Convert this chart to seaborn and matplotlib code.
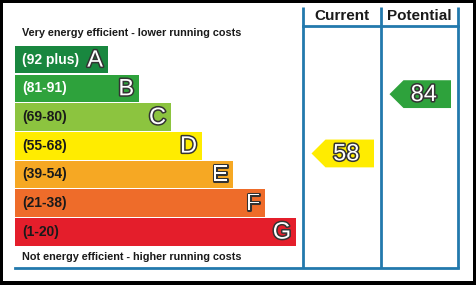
import matplotlib
matplotlib.use("Agg")
import matplotlib.pyplot as plt
import matplotlib.patheffects as pe
from matplotlib.patches import Polygon
import seaborn as sns
import pandas as pd

# ---- data ----
bands = ["A", "B", "C", "D", "E", "F", "G"]
ranges = ["(92 plus)", "(81-91)", "(69-80)", "(55-68)", "(39-54)", "(21-38)", "(1-20)"]
band_top = [100, 91, 80, 68, 54, 38, 20]
band_bottom = [92, 81, 69, 55, 39, 21, 1]
bar_length = [93, 124, 156, 187, 218, 250, 281]
colors = ["#19873f", "#2ea23c", "#8cc43f", "#ffec00", "#f6a823", "#ee6c2a", "#e41e2b"]
label_colors = ["white", "white", "#1a1a1a", "#1a1a1a", "#1a1a1a", "#1a1a1a", "#1a1a1a"]
columns = ["Current", "Potential"]
ratings = [58, 84]
top_text = "Very energy efficient - lower running costs"
bottom_text = "Not energy efficient - higher running costs"

W, H = 476, 285
BLUE = "#2279ad"
FONT = "Liberation Sans"

# pixel geometry helpers
x0 = 15.0            # left edge of bars (px)
row0_top = 45.4      # top of first row slot (px)
pitch = 28.67        # px per band row

def cy(py):
    return (py - row0_top) / pitch - 0.5

def cx(px):
    return px - x0

fig = plt.figure(figsize=(W / 100, H / 100), dpi=100)
fig.patch.set_facecolor("black")
pl, pt, pr, pb = 3, 3, 473, 281
ax = fig.add_axes([pl / W, (H - pb) / H, (pr - pl) / W, (pb - pt) / H])
ax.set_facecolor("white")

df = pd.DataFrame({"band": bands, "length": bar_length})
sns.barplot(data=df, x="length", y="band", hue="band", palette=colors,
            saturation=1, orient="h", width=0.96, linewidth=0, legend=False, ax=ax)

ax.set_xlim(cx(pl), cx(pr))
ax.set_ylim(cy(pb), cy(pt))
ax.set_xticks([])
ax.set_yticks([])
ax.set_xlabel("")
ax.set_ylabel("")
for s in ax.spines.values():
    s.set_visible(False)

outline = [pe.withStroke(linewidth=2.2, foreground="#333333")]

for i, (b, r, L) in enumerate(zip(bands, ranges, bar_length)):
    ax.text(7, i, r, ha="left", va="center", fontsize=10, fontweight="bold",
            color=label_colors[i], family=FONT)
    ax.text(L - 5, i + 0.03, b, ha="right", va="center", fontsize=17,
            color="white", family=FONT, path_effects=outline)

ax.text(7, cy(33), top_text, ha="left", va="center", fontsize=7.8,
        fontweight="bold", color="#1a1a1a", family=FONT)
ax.text(7, cy(257), bottom_text, ha="left", va="center", fontsize=7.8,
        fontweight="bold", color="#1a1a1a", family=FONT)

# columns frame
col_x = [cx(303), cx(381), cx(458)]
y_top, y_head, y_bot = cy(7), cy(26), cy(268)
lw = 2.0
for xv in col_x:
    ax.plot([xv, xv], [y_top, y_bot], color=BLUE, lw=lw, solid_capstyle="butt")
ax.plot([col_x[0], col_x[-1]], [y_head, y_head], color=BLUE, lw=lw)
ax.plot([0, col_x[-1]], [y_bot, y_bot], color=BLUE, lw=lw)

for j, name in enumerate(columns):
    ax.text((col_x[j] + col_x[j + 1]) / 2, cy(15.5), name, ha="center", va="center",
            fontsize=11, fontweight="bold", color="#1a1a1a", family=FONT)

# rating arrows
def band_of(v):
    for k in range(len(bands)):
        if band_bottom[k] <= v <= band_top[k]:
            return k
    return len(bands) - 1

h = 0.97
for j, v in enumerate(ratings):
    k = band_of(v)
    yc = k + (band_top[k] - v) / (band_top[k] - band_bottom[k]) - 0.5
    tip = col_x[j] + 8.5
    right = col_x[j + 1] - 7
    notch = tip + 14
    poly = Polygon([(tip, yc), (notch, yc - h / 2), (right, yc - h / 2),
                    (right, yc + h / 2), (notch, yc + h / 2)],
                   closed=True, facecolor=colors[k], edgecolor="none")
    ax.add_patch(poly)
    ax.text((tip + right) / 2 + 3.5, yc + 0.03, str(v), ha="center", va="center",
            fontsize=17, color="white", family=FONT, path_effects=outline)

fig.savefig("out.png", dpi=100, facecolor=fig.get_facecolor())
